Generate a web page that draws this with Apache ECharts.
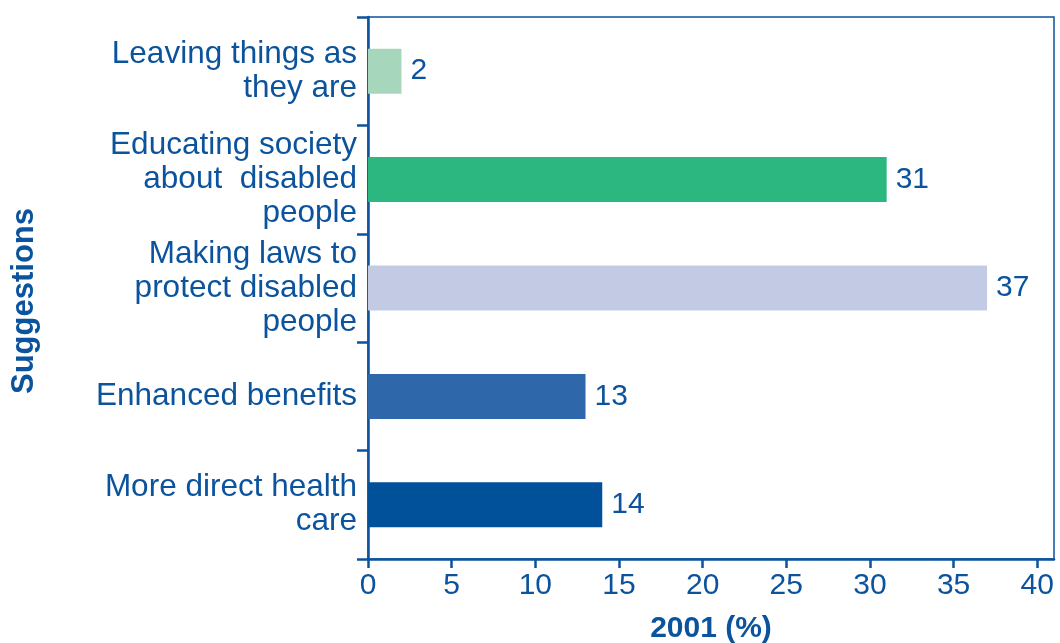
<!DOCTYPE html>
<html>
<head>
<meta charset="utf-8">
<script src="https://cdn.jsdelivr.net/npm/echarts@6/dist/echarts.min.js"></script>
<style>
  html, body { margin: 0; padding: 0; background: #fff; }
  #chart { width: 1060px; height: 643px; }
</style>
</head>
<body>
<div id="chart"></div>
<script>
// Suggestions (top to bottom) and their share in 2001, in percent
const categories = [
  'Leaving things as\nthey are',
  'Educating society\nabout  disabled\npeople',
  'Making laws to\nprotect disabled\npeople',
  'Enhanced benefits',
  'More direct health\ncare'
];
const values = [2, 31, 37, 13, 14];
const xTicks = [0, 5, 10, 15, 20, 25, 30, 35, 40];

const ink = '#0b539c';
const font = '"Liberation Sans", Arial, sans-serif';
const barColors = ['#a6d7bd', '#2db780', '#c3cae4', '#2f68aa', '#00509a'];

const chart = echarts.init(document.getElementById('chart'), null, { renderer: 'canvas' });

chart.setOption({
  animation: false,
  backgroundColor: '#ffffff',
  textStyle: { fontFamily: font, color: ink },
  grid: {
    left: 368, right: 6, top: 17, bottom: 84,
    outerBoundsMode: 'none',
    containLabel: false,
    show: true, borderColor: ink, borderWidth: 1.5, backgroundColor: 'transparent'
  },
  xAxis: {
    type: 'value',
    min: 0,
    max: 41,
    name: '2001 (%)',
    nameLocation: 'middle',
    nameGap: 55,
    nameTextStyle: { fontFamily: font, fontWeight: 'bold', fontSize: 30, color: ink },
    axisLine: { show: true, lineStyle: { color: ink, width: 2.5 } },
    axisTick: { show: true, length: 9, customValues: xTicks, lineStyle: { color: ink, width: 2.5 } },
    axisLabel: { customValues: xTicks, fontFamily: font, fontSize: 30, color: ink, margin: 12 },
    splitLine: { show: false }
  },
  yAxis: {
    type: 'category',
    inverse: true,
    data: categories,
    name: 'Suggestions',
    nameLocation: 'middle',
    nameGap: 328,
    nameRotate: 90,
    nameTextStyle: {
      fontFamily: font, fontWeight: 'bold', fontSize: 31, color: ink,
      padding: [0, 26, 0, 0]
    },
    axisLine: { show: true, lineStyle: { color: ink, width: 2.5 } },
    axisTick: { show: true, length: 11, lineStyle: { color: ink, width: 2.5 } },
    axisLabel: {
      fontFamily: font, fontSize: 31.5, lineHeight: 34, color: ink,
      margin: 11, align: 'right'
    },
    splitLine: { show: false }
  },
  series: [{
    type: 'bar',
    barWidth: 45,
    data: values.map((v, i) => ({ value: v, itemStyle: { color: barColors[i] } })),
    label: {
      show: true,
      position: 'right',
      distance: 9,
      fontFamily: font,
      fontSize: 30,
      color: ink
    }
  }]
});
</script>
</body>
</html>
